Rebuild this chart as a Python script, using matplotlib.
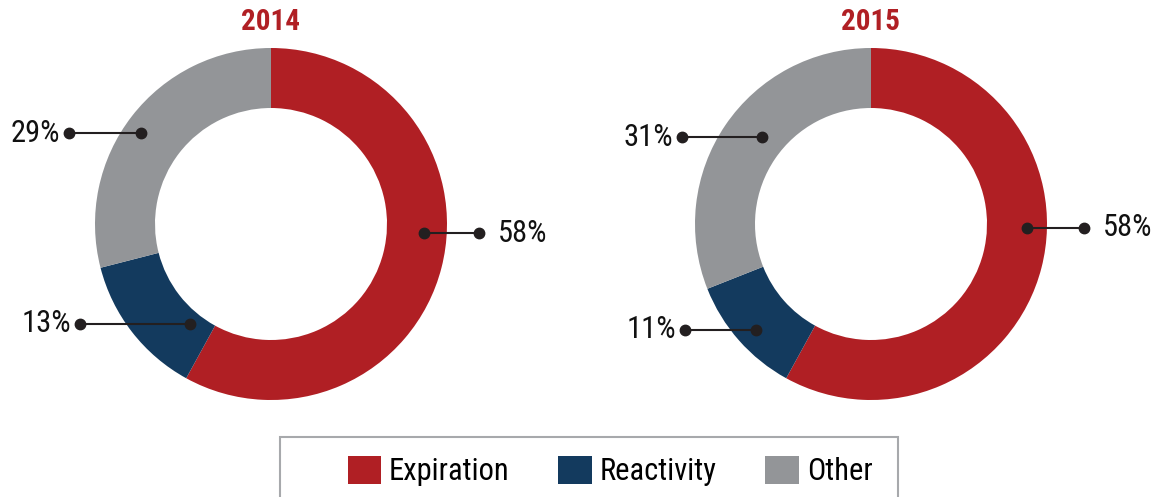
import matplotlib
matplotlib.use("Agg")
import matplotlib.pyplot as plt
from matplotlib.patches import Rectangle, Patch
from matplotlib import font_manager as fm

# ---- data ----
years = ['2014', '2015']
categories = ['Expiration', 'Reactivity', 'Other']
values_2014 = [58, 13, 29]
values_2015 = [58, 11, 31]
labels_2014 = ['58%', '13%', '29%']
labels_2015 = ['58%', '11%', '31%']

# ---- font choice: look for a condensed sans ----
def find_font(bold):
    best = None
    for f in fm.fontManager.ttflist:
        nm = f.name
        cond = (f.stretch in ('condensed', 'semi-condensed', 'extra-condensed')
                or 'Narrow' in nm or 'Condensed' in nm
                or 'Condensed' in f.fname or 'Narrow' in f.fname)
        if not cond or 'Mono' in nm or 'Serif' in nm:
            continue
        w = f.weight if isinstance(f.weight, int) else (700 if 'bold' in str(f.weight) else 400)
        if f.style != 'normal':
            continue
        if bold and w < 600:
            continue
        if not bold and w >= 600:
            continue
        score = 0 if ('Liberation' in nm or 'Roboto' in nm) else 1
        if best is None or score < best[0]:
            best = (score, f.fname)
    return best[1] if best else None

reg_path = find_font(False)
bold_path = find_font(True)
if reg_path:
    fp_reg = lambda s: fm.FontProperties(fname=reg_path, size=s)
    s_scale = 1.0
else:
    fp_reg = lambda s: fm.FontProperties(family='DejaVu Sans', size=s)
    s_scale = 0.8
if bold_path:
    fp_bold = lambda s: fm.FontProperties(fname=bold_path, size=s)
else:
    fp_bold = lambda s: fm.FontProperties(family='DejaVu Sans', weight='bold', size=s * 0.8)

# ---- style / layout ----
colors = ['#B01F24', '#133A5E', '#939598']
title_color = '#B01F24'
dot_color = '#231F20'
W, H = 1156, 497
centers = [(271, H - 224), (871, H - 224)]
R = 176
ring = 60
# per-label layout: (pixel y, inner dx, outer dx)
label_layout = [
    [(233, 153, 208), (324, -81, -191), (133, -130, -202)],
    [(228, 156, 213), (330, -115, -186), (137, -109, -189)],
]

fig = plt.figure(figsize=(W / 100, H / 100), dpi=100)
ax = fig.add_axes([0, 0, 1, 1])

for (cx, cy), year, vals, labs, lay in zip(centers, years,
                                          [values_2014, values_2015],
                                          [labels_2014, labels_2015],
                                          label_layout):
    ax.pie(vals, colors=colors, startangle=90, counterclock=False,
           center=(cx, cy), radius=R, frame=True,
           wedgeprops=dict(width=ring, linewidth=0))
    ax.text(cx, H - 22, year, ha='center', va='center',
            fontproperties=fp_bold(21), color=title_color)
    for lab, (py, dxi, dxo) in zip(labs, lay):
        y = H - py
        ax.plot([cx + dxi, cx + dxo], [y, y], color=dot_color, lw=1.5,
                marker='o', markersize=7.5, zorder=5)
        if dxo > 0:
            ax.text(cx + dxo + 19, y, lab, ha='left', va='center',
                    fontproperties=fp_reg(22 * s_scale), color='#111111')
        else:
            ax.text(cx + dxo - 9, y, lab, ha='right', va='center',
                    fontproperties=fp_reg(22 * s_scale), color='#111111')

ax.set_xlim(0, W)
ax.set_ylim(0, H)
ax.set_aspect('equal')
ax.axis('off')

# legend frame
ax.add_patch(Rectangle((280, -10), 618, H - 437 + 10, fill=False,
                       edgecolor='#A7A9AC', linewidth=1.5, zorder=1))
handles = [Patch(facecolor=c, edgecolor='none', label=l)
           for c, l in zip(colors, categories)]
ax.legend(handles=handles, loc='center', bbox_to_anchor=(610 / W, (H - 471) / H),
          bbox_transform=fig.transFigure, ncol=3, frameon=False,
          prop=fp_reg(22 * s_scale), handlelength=1.1, handleheight=1.05,
          handletextpad=0.25, columnspacing=1.6, borderpad=0)

fig.savefig('out.png', dpi=100)
